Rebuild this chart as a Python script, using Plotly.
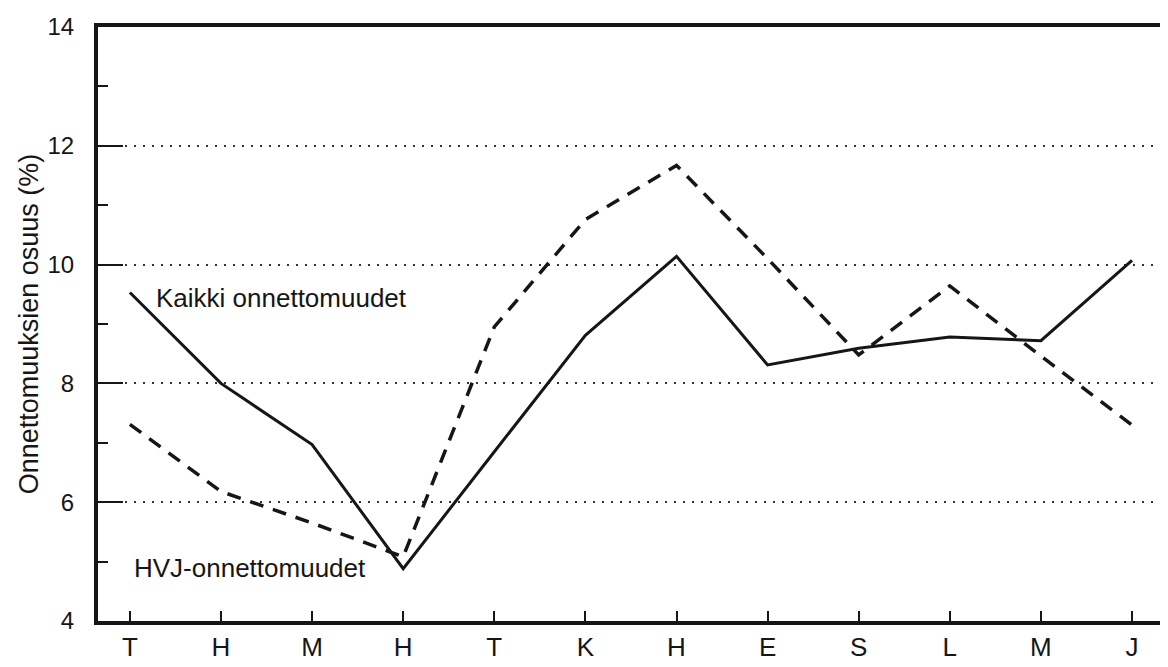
import plotly.graph_objects as go

months = ["T", "H", "M", "H", "T", "K", "H", "E", "S", "L", "M", "J"]
kaikki = [9.53, 8.0, 6.97, 4.88, 6.85, 8.81, 10.14, 8.31, 8.59, 8.78, 8.72, 10.07]
hvj = [7.31, 6.18, 5.65, 5.08, 8.95, 10.76, 11.67, 10.1, 8.48, 9.64, 8.46, 7.3]
y_ticks = [4, 6, 8, 10, 12, 14]

x = list(range(len(months)))
FONT = "Liberation Sans, Arial, sans-serif"
INK = "#161616"

fig = go.Figure()
fig.add_trace(go.Scatter(x=x, y=kaikki, mode="lines",
                         line=dict(color=INK, width=3), showlegend=False))
fig.add_trace(go.Scatter(x=x, y=hvj, mode="lines",
                         line=dict(color=INK, width=3.5, dash="14px,10px"), showlegend=False))

fig.add_annotation(x=0.27, y=9.43, text="Kaikki onnettomuudet", showarrow=False,
                   xanchor="left", yanchor="middle",
                   font=dict(family=FONT, size=26, color=INK))
fig.add_annotation(x=0.02, y=4.89, text="HVJ-onnettomuudet", showarrow=False,
                   xanchor="left", yanchor="middle",
                   font=dict(family=FONT, size=26, color=INK))

# thin right border
fig.add_shape(type="line", xref="paper", yref="paper", x0=1, x1=1, y0=0, y1=1,
              line=dict(color="#555", width=1.5))

fig.update_xaxes(range=[-0.35, 11.34], tickmode="array", tickvals=x, ticktext=months,
                 ticks="inside", ticklen=10, tickwidth=2, tickcolor=INK,
                 showline=True, linewidth=4, linecolor=INK, mirror=True,
                 showgrid=False, zeroline=False,
                 tickfont=dict(family=FONT, size=26, color=INK))
fig.update_yaxes(range=[4, 14], tickmode="array", tickvals=y_ticks,
                 ticks="inside", ticklen=25, tickwidth=2, tickcolor=INK,
                 minor=dict(dtick=1, tick0=5, ticks="inside", ticklen=10, tickwidth=2,
                            tickcolor=INK, showgrid=False),
                 showline=True, linewidth=4, linecolor=INK,
                 showgrid=True, gridcolor="#333", gridwidth=1.6, griddash="2px,7px",
                 zeroline=False, ticklabelstandoff=15,
                 tickfont=dict(family=FONT, size=24, color=INK),
                 title=dict(text="Onnettomuuksien osuus (%)", standoff=2,
                            font=dict(family=FONT, size=27, color=INK)))

# page body has an 8px margin, so the figure is shifted by 8px; compensate
fig.update_layout(width=1160, height=659,
                  margin=dict(l=90, r=5, t=16, b=43),
                  paper_bgcolor="white", plot_bgcolor="white")

fig.write_html("out.html")
